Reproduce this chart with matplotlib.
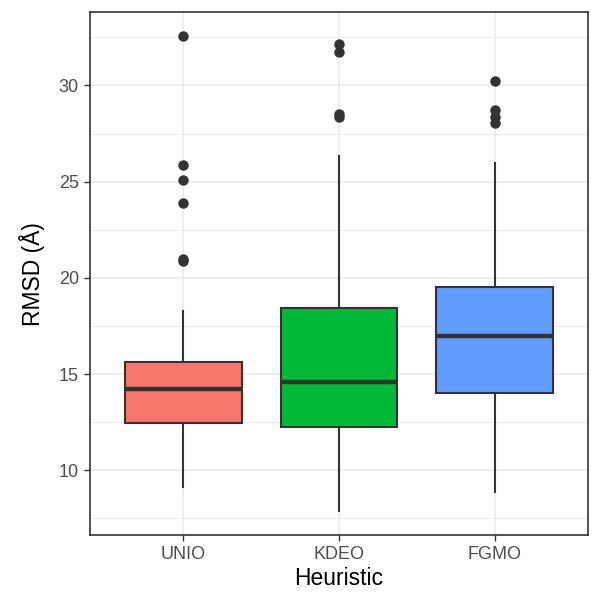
import matplotlib
matplotlib.use("Agg")
import matplotlib.pyplot as plt
from matplotlib.ticker import MultipleLocator

plt.rcParams['font.family'] = ['Liberation Sans', 'DejaVu Sans']

heuristics = ["UNIO", "KDEO", "FGMO"]
fill_colors = ["#F8766D", "#00BA38", "#619CFF"]

# five-number summaries
whisker_low = [9.10, 7.86, 8.84]
q1 = [12.46, 12.23, 14.03]
median = [14.20, 14.56, 16.98]
q3 = [15.60, 18.45, 19.52]
whisker_high = [18.29, 26.31, 25.96]
outliers = [
    [32.58, 25.84, 25.11, 23.89, 20.97, 20.90],
    [32.18, 31.76, 28.53, 28.38],
    [30.21, 28.74, 28.38, 28.07],
]

stats = []
for i, name in enumerate(heuristics):
    stats.append({
        "label": name,
        "whislo": whisker_low[i],
        "q1": q1[i],
        "med": median[i],
        "q3": q3[i],
        "whishi": whisker_high[i],
        "fliers": outliers[i],
    })

fig = plt.figure(figsize=(6, 6), dpi=100)
ax = fig.add_axes([0.15, 0.108, 0.83, 0.872])

edge = "#333333"
bp = ax.bxp(stats, positions=[1, 2, 3], widths=0.75, patch_artist=True,
            showcaps=False,
            boxprops=dict(edgecolor=edge, linewidth=1.5),
            medianprops=dict(color=edge, linewidth=3.2, solid_capstyle="butt"),
            whiskerprops=dict(color=edge, linewidth=1.5),
            flierprops=dict(marker="o", markerfacecolor=edge, markeredgecolor=edge,
                            markersize=6.5, linestyle="none"),
            zorder=3)
for patch, c in zip(bp["boxes"], fill_colors):
    patch.set_facecolor(c)

ax.set_xlim(0.4, 3.6)
ax.set_ylim(6.62, 33.82)
ax.yaxis.set_major_locator(MultipleLocator(5))
ax.yaxis.set_minor_locator(MultipleLocator(2.5))
ax.set_yticks([10, 15, 20, 25, 30])

ax.grid(True, which="major", color="#EBEBEB", linewidth=1.2, zorder=0)
ax.grid(True, which="minor", axis="y", color="#EBEBEB", linewidth=0.7, zorder=0)
ax.set_axisbelow(True)

for s in ax.spines.values():
    s.set_color(edge)
    s.set_linewidth(1.2)

ax.tick_params(axis="both", which="major", length=4.5, width=1.0, color=edge,
               labelsize=13, labelcolor="#4D4D4D", pad=3.5)
ax.tick_params(axis="y", which="minor", length=0)

ax.set_xlabel("Heuristic", fontsize=16.5, color="black", labelpad=3)
ax.set_ylabel("RMSD (Å)", fontsize=16.5, color="black", labelpad=10)

fig.savefig("out.png", dpi=100)
